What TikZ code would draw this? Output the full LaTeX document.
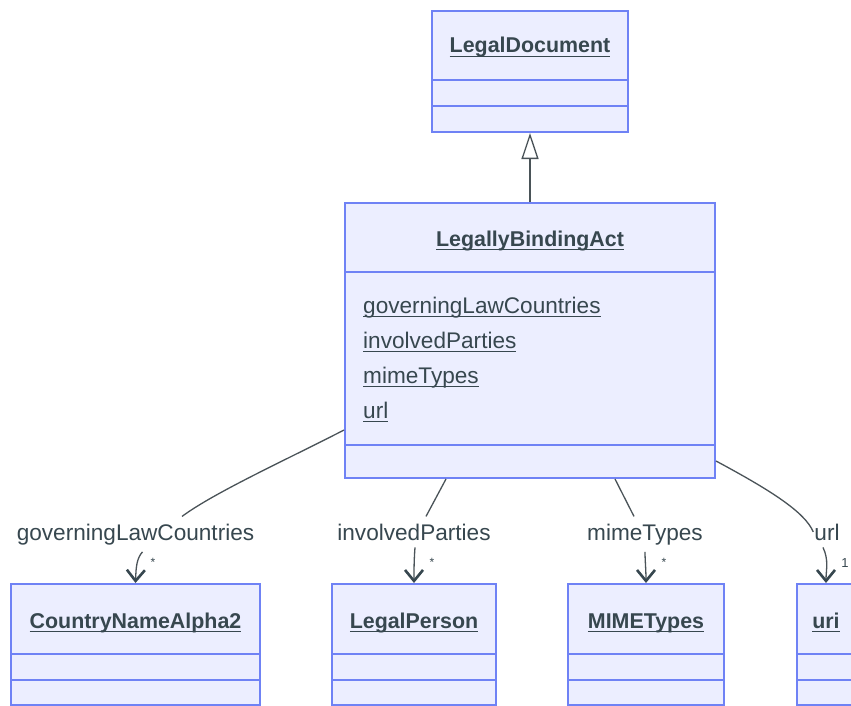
\documentclass[tikz,border=0pt]{standalone}
\usepackage{fontspec}
\setmainfont{Liberation Sans}
\usetikzlibrary{arrows.meta}
\definecolor{boxfill}{HTML}{ECEEFF}
\definecolor{boxline}{HTML}{6F82F5}
\definecolor{ink}{HTML}{37474F}
\definecolor{edgec}{HTML}{4A5358}
\newcommand\myul[1]{\setbox0=\hbox{#1}\rlap{\rule[-4pt]{\wd0}{1.4pt}}\box0}
\begin{document}
\begin{tikzpicture}[x=1pt,y=-1pt,
  cls/.style={draw=boxline, fill=boxfill, line width=2pt, inner sep=0pt},
  divider/.style={draw=boxline, line width=2pt},
  ttl/.style={anchor=base, inner sep=0pt, text=ink, font=\fontsize{21.4}{26}\selectfont\bfseries},
  attr/.style={anchor=base west, inner sep=0pt, text=ink, font=\fontsize{22.6}{26}\selectfont},
  lbl/.style={anchor=base, inner xsep=1pt, inner ysep=7pt, text=ink, font=\fontsize{22.6}{26}\selectfont},
  card/.style={inner sep=0pt, text=ink, font=\fontsize{12}{14}\selectfont},
  assoc/.style={draw=edgec, line width=1.3pt},
  tipv/.style={-{Straight Barb[length=11pt,width=18pt,line width=2.6pt,color=ink]}},
  gen/.style={draw=edgec, line width=1.3pt, -{Triangle[open, fill=white, length=26pt, width=17pt, line width=1.3pt]}}
]
\useasboundingbox (0,0) rectangle (851,706);
\fill[white] (0,0) rectangle (851,706);

% class boxes
\node[cls, minimum width=196pt, minimum height=121pt] (ld) at (530,71.5) {};
\node[cls, minimum width=370pt, minimum height=275pt] (lba) at (530,340.5) {};
\node[cls, minimum width=249pt, minimum height=121pt] (c1) at (135.5,644.5) {};
\node[cls, minimum width=164pt, minimum height=121pt] (c2) at (414,644.5) {};
\node[cls, minimum width=156pt, minimum height=121pt] (c3) at (646,644.5) {};
\node[cls, minimum width=58pt, minimum height=121pt] (c4) at (826,644.5) {};

% dividers
\draw[divider] (ld.west |- 0,80) -- (ld.east |- 0,80);
\draw[divider] (ld.west |- 0,106) -- (ld.east |- 0,106);
\draw[divider] (lba.west |- 0,272) -- (lba.east |- 0,272);
\draw[divider] (lba.west |- 0,445) -- (lba.east |- 0,445);
\foreach \c in {c1,c2,c3,c4}{
  \draw[divider] (\c.west |- 0,654) -- (\c.east |- 0,654);
  \draw[divider] (\c.west |- 0,680) -- (\c.east |- 0,680);
}

% titles
\node[ttl] (t0) at (530,53) {\myul{LegalDocument}};
\node[ttl] (t1) at (530,246) {\myul{LegallyBindingAct}};
\node[ttl] (t2) at (135.5,628) {\myul{CountryNameAlpha2}};
\node[ttl] (t3) at (414,628) {\myul{LegalPerson}};
\node[ttl] (t4) at (646,628) {\myul{MIMETypes}};
\node[ttl] (t5) at (826,628) {\myul{uri}};

% attributes
\node[attr] (a1) at (363,313) {\myul{governingLawCountries}};
\node[attr] (a2) at (363,348) {\myul{involvedParties}};
\node[attr] (a3) at (363,383) {\myul{mimeTypes}};
\node[attr] (a4) at (363,418) {\myul{url}};

% generalization
\draw[gen] (lba.north) -- (ld.south);

% edge labels
\node[lbl] (l1) at (135.5,540) {governingLawCountries};
\node[lbl] (l2) at (414,540) {involvedParties};
\node[lbl] (l3) at (645,540) {mimeTypes};
\node[lbl] (l4) at (827,540) {url};

% associations
\draw[assoc] (lba.west |- 0,430) .. controls (290,458) and (215,492) .. (l1.north -| 182,0);
\draw[assoc, tipv] ([xshift=7pt]l1.south) .. controls (137,558) and (136,566) .. (c1.north);

\draw[assoc] (lba.south -| 446,0) -- (l2.north -| 426,0);
\draw[assoc, tipv] ([xshift=1pt]l2.south) .. controls (414,560) and (414,570) .. (c2.north);

\draw[assoc] (lba.south -| 615,0) -- (l3.north -| 634,0);
\draw[assoc, tipv] (l3.south) .. controls (645,560) and (646,570) .. (c3.north);

\draw[assoc] (lba.east |- 0,461) .. controls (770,490) and (805,512) .. (l4.west);
\draw[assoc, tipv] ([xshift=-4pt]l4.south) .. controls (829,560) and (826,570) .. (c4.north);

% multiplicities
\node[card] (k1) at (153,562) {*};
\node[card] (k2) at (432,562) {*};
\node[card] (k3) at (664,562) {*};
\node[card, font=\fontsize{13}{15}\selectfont] (k4) at (845,563) {1};
\end{tikzpicture}
\end{document}
